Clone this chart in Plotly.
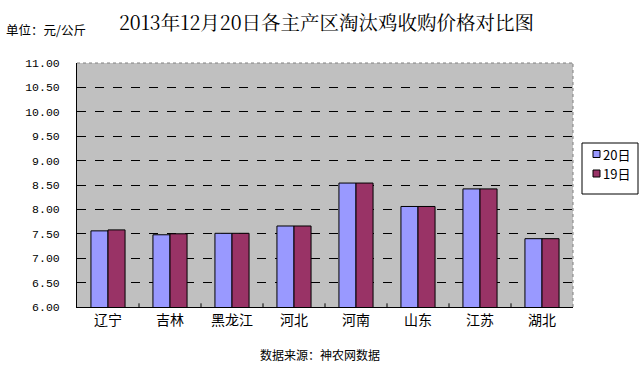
import plotly.graph_objects as go

categories = ["辽宁", "吉林", "黑龙江", "河北", "河南", "山东", "江苏", "湖北"]
s20 = [7.56, 7.48, 7.51, 7.66, 8.54, 8.06, 8.42, 7.40]
s19 = [7.58, 7.50, 7.51, 7.66, 8.54, 8.06, 8.42, 7.40]
series_names = ["20日", "19日"]
series_colors = ["#9999FF", "#993366"]
yticks = [6.0, 6.5, 7.0, 7.5, 8.0, 8.5, 9.0, 9.5, 10.0, 10.5, 11.0]

W, H = 640, 367
L, R, T, B = 77, 67, 63, 60
PW, PH = W - L - R, H - T - B


def px(x):
    return (x - L) / PW


def py(y):
    return (H - B - y) / PH


cjk = "Noto Sans CJK SC"
fig = go.Figure()
for name, vals, col in zip(series_names, [s20, s19], series_colors):
    fig.add_trace(go.Bar(x=categories, y=vals, name=name,
                         marker=dict(color=col, line=dict(color="black", width=1))))

fig.update_layout(
    width=W, height=H,
    margin=dict(l=L, r=R, t=T, b=B, autoexpand=False),
    paper_bgcolor="white", plot_bgcolor="#C0C0C0",
    barmode="group", bargap=0.45, bargroupgap=0,
    showlegend=False,
    title=dict(text="2013年12月20日各主产区淘汰鸡收购价格对比图", x=0.503, xanchor="center",
               xref="paper", y=1 - 23 / H, yref="container", yanchor="middle",
               font=dict(family="Noto Serif CJK SC, " + cjk, size=19.5, color="black")),
    font=dict(family=cjk, color="black"),
)
fig.update_yaxes(range=[6, 11], tickvals=yticks, ticktext=[f"{v:.2f}" for v in yticks],
                 tickfont=dict(family="Liberation Mono", size=11.5, color="black"),
                 showgrid=True, gridcolor="black", griddash="dash", gridwidth=1,
                 showline=True, linecolor="black", linewidth=1, ticks="outside", ticklen=14,
                 tickcolor="rgba(255,255,255,0)", zeroline=False, fixedrange=True)
fig.update_xaxes(tickfont=dict(family=cjk, size=14, color="black"),
                 showline=True, linecolor="black", linewidth=1, ticks="", showgrid=False)

# dashed border at top and right of plot area
fig.add_shape(type="line", xref="paper", yref="paper", x0=0, x1=1, y0=1, y1=1,
              line=dict(color="#808080", width=1, dash="dot"))
fig.add_shape(type="line", xref="paper", yref="paper", x0=1, x1=1, y0=0, y1=1,
              line=dict(color="#808080", width=1, dash="dot"))
# category separator ticks on x axis
for i in range(1, len(categories)):
    fig.add_shape(type="line", xref="x", yref="paper", x0=i - 0.5, x1=i - 0.5, y0=0, y1=0.015,
                  line=dict(color="black", width=1))

# custom legend box
fig.add_shape(type="rect", xref="paper", yref="paper", x0=px(582), x1=px(638), y0=py(194), y1=py(143),
              line=dict(color="black", width=1), fillcolor="white")
for k, (name, col) in enumerate(zip(series_names, series_colors)):
    cy = 154 + k * 19.5
    fig.add_shape(type="rect", xref="paper", yref="paper", x0=px(593), x1=px(600),
                  y0=py(cy + 3.5), y1=py(cy - 3.5), line=dict(color="black", width=1), fillcolor=col)
    fig.add_annotation(text=name, xref="paper", yref="paper", x=px(601), y=py(cy),
                       xanchor="left", yanchor="middle", showarrow=False,
                       font=dict(family=cjk, size=13, color="black"))

fig.add_annotation(text="单位：元/公斤", xref="paper", yref="paper", x=px(4), y=py(30),
                   xanchor="left", yanchor="middle", showarrow=False,
                   font=dict(family=cjk, size=12.5, color="black"))
fig.add_annotation(text="数据来源：神农网数据", xref="paper", yref="paper", x=px(320), y=py(354),
                   xanchor="center", yanchor="middle", showarrow=False,
                   font=dict(family=cjk, size=12, color="black"))

fig.write_html("out.html", config={"displayModeBar": False},
               post_script="document.body.style.margin='0';document.body.style.padding='0';")
